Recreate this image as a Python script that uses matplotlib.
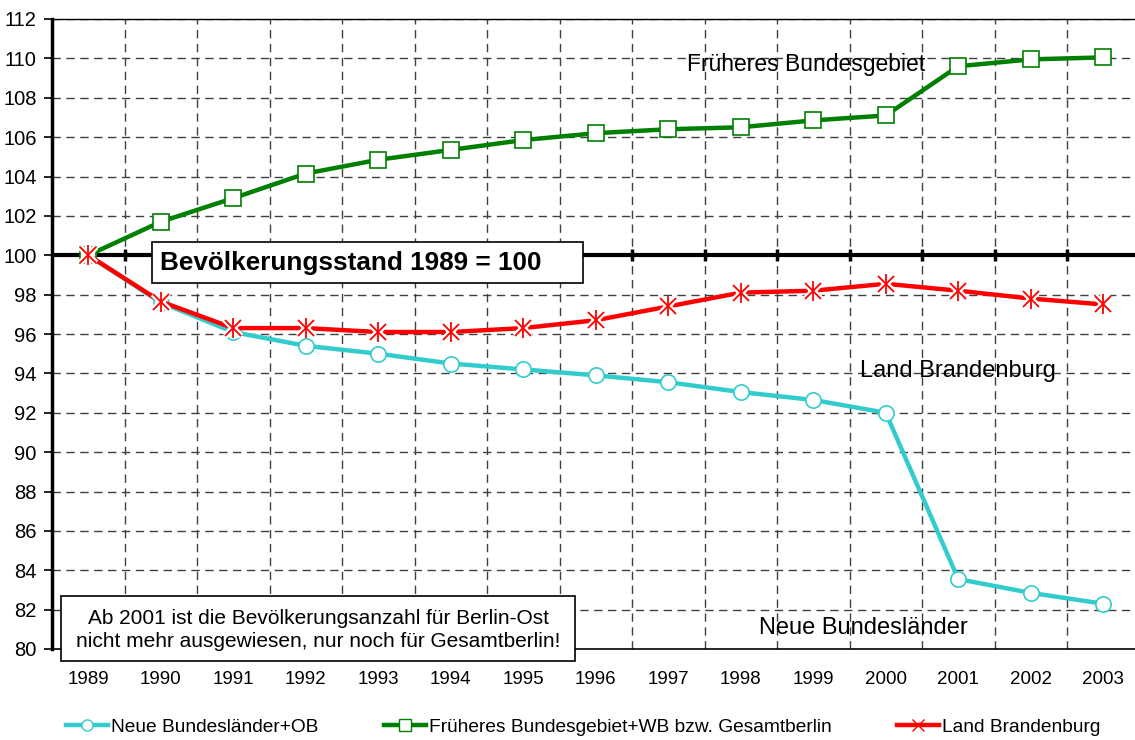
import numpy as np
import matplotlib
matplotlib.use('Agg')
import matplotlib.pyplot as plt
from matplotlib.lines import Line2D
from matplotlib.patches import Rectangle

plt.rcParams['font.family'] = ['Liberation Sans', 'DejaVu Sans']

# Jahre
jahre = ['1989', '1990', '1991', '1992', '1993', '1994', '1995', '1996',
         '1997', '1998', '1999', '2000', '2001', '2002', '2003']
# Neue Bundesländer+OB
neue = [100, 97.6, 96.1, 95.4, 95.0, 94.5, 94.2, 93.9, 93.55, 93.05, 92.65, 92.0, 83.55, 82.85, 82.3]
# Früheres Bundesgebiet+WB bzw. Gesamtberlin
frueher = [100, 101.7, 102.9, 104.15, 104.85, 105.35, 105.85, 106.2, 106.4, 106.5, 106.85, 107.1, 109.6, 109.95, 110.05]
# Land Brandenburg
brandenburg = [100, 97.65, 96.3, 96.3, 96.1, 96.1, 96.3, 96.7, 97.4, 98.1, 98.2, 98.55, 98.2, 97.8, 97.5]

serien = ['Neue Bundesländer+OB', 'Früheres Bundesgebiet+WB bzw. Gesamtberlin', 'Land Brandenburg']

W, H = 1135, 740
fig = plt.figure(figsize=(W / 100, H / 100), dpi=100)
ax = fig.add_axes([52 / W, 1 - 649 / H, (W - 52) / W, (649 - 19) / H])

x = np.arange(len(jahre))
ax.set_xlim(-0.5, len(jahre) - 0.5 - 4.5 / 72.5)
ax.set_ylim(80, 112)

# Gitter
for yy in range(80, 113, 2):
    if yy in (80, 100):
        continue
    ax.axhline(yy, color='#404040', lw=1, ls=(0, (6, 4)), zorder=1)
for xx in x[:-1] + 0.5:
    ax.axvline(xx, color='#404040', lw=1, ls=(0, (6, 4)), zorder=1)

# Achse bei 100
ax.axhline(100, color='black', lw=3, zorder=2)
ax.plot(x[:-1] + 0.5, [100] * (len(x) - 1), ls='none', marker='|', ms=9, mew=2.5,
        color='black', zorder=2)

ax.plot(x, neue, color='#33CCCC', lw=3.2, marker='o', ms=11, mfc='white',
        mec='#33CCCC', mew=1.2, zorder=3)
ax.plot(x, frueher, color='#008000', lw=3.2, marker='s', ms=11, mfc='white',
        mec='#008000', mew=1.2, zorder=4)
ax.plot(x, brandenburg, color='#FF0000', lw=3.2, zorder=5)
# Sternchen: X + senkrechter Strich, mit weissem Rand
for m, s in (('x', 11), ('|', 14)):
    ax.plot(x, brandenburg, ls='none', marker=m, ms=s, mec='white', mew=4.5, zorder=5)
for m, s in (('x', 11), ('|', 14)):
    ax.plot(x, brandenburg, ls='none', marker=m, ms=s, mec='#FF0000', mew=1.3, zorder=6)

ax.set_yticks(range(80, 113, 2))
ax.set_xticks(x)
ax.set_xticklabels(jahre)
ax.tick_params(axis='y', labelsize=14.5, length=6, width=1.2, direction='out', pad=5)
ax.tick_params(axis='x', labelsize=13.5, length=0, pad=16)

ax.spines['left'].set_linewidth(2.5)
ax.spines['bottom'].set_linewidth(1.2)
ax.spines['top'].set_color('black')
ax.spines['top'].set_linewidth(1)
ax.spines['right'].set_visible(False)


def px_box(x0, x1, y0, y1, z):
    # Kasten in Pixelkoordinaten der Abbildung
    r = Rectangle((x0 / W, 1 - y1 / H), (x1 - x0) / W, (y1 - y0) / H,
                  transform=fig.transFigure, fc='white', ec='black', lw=1.2,
                  zorder=z, clip_on=False)
    ax.add_artist(r)


# Beschriftungen
px_box(152, 583, 242, 283, 7)
ax.text(0.99, 99.62, 'Bevölkerungsstand 1989 = 100', fontsize=18.8, fontweight='bold',
        va='center', ha='left', zorder=8)
ax.text(9.9, 109.7, 'Früheres Bundesgebiet', fontsize=16.5, ha='center', va='center', zorder=7)
ax.text(12.0, 94.1, 'Land Brandenburg', fontsize=17, ha='center', va='center', zorder=7)
ax.text(10.69, 81.07, 'Neue Bundesländer', fontsize=17, ha='center', va='center', zorder=7)
px_box(61, 575, 596, 661, 8)
ax.text(3.17, 80.98, 'Ab 2001 ist die Bevölkerungsanzahl für Berlin-Ost\n'
        'nicht mehr ausgewiesen, nur noch für Gesamtberlin!',
        fontsize=15, ha='center', va='center', linespacing=1.25, zorder=9,
        clip_on=False)

handles = [
    Line2D([], [], color='#33CCCC', lw=3.2, marker='o', ms=8, mfc='white', mec='#33CCCC'),
    Line2D([], [], color='#008000', lw=3.2, marker='s', ms=8, mfc='white', mec='#008000'),
    Line2D([], [], color='#FF0000', lw=3.2, marker='x', ms=8, mec='#FF0000'),
]
fig.legend(handles, serien, loc='center left', bbox_to_anchor=(66 / W, 1 - 727 / H),
           ncol=3, frameon=False, fontsize=13.8, handlelength=2.2, handletextpad=0.15,
           columnspacing=3.4, borderaxespad=0, borderpad=0)

fig.savefig('out.png', dpi=100)
